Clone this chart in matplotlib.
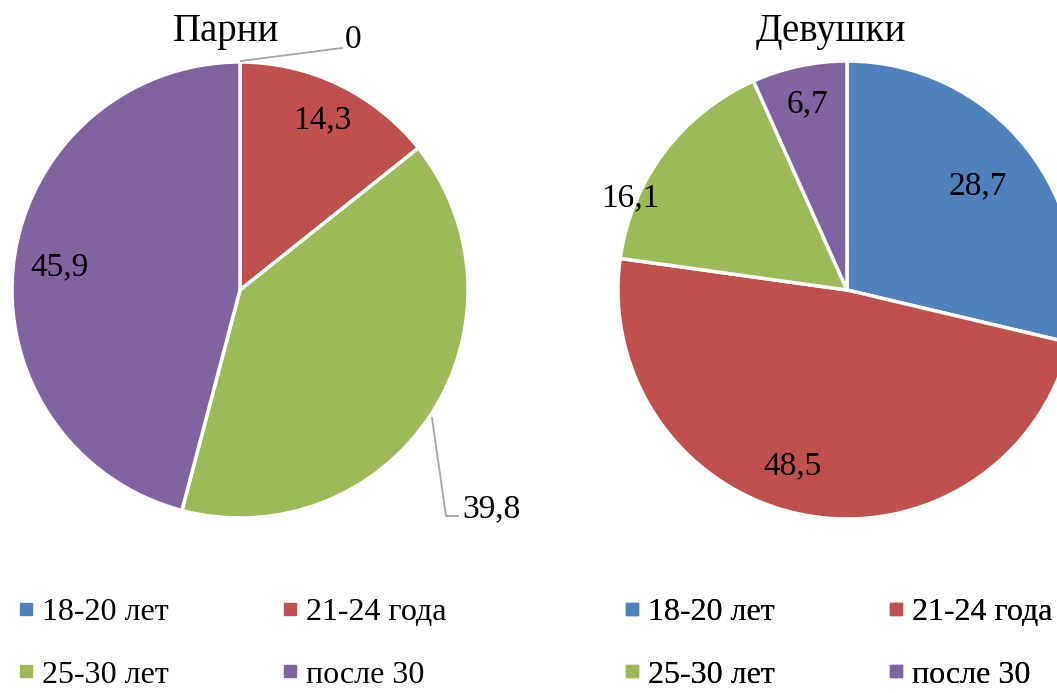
import numpy as np
import matplotlib
matplotlib.use("Agg")
import matplotlib.pyplot as plt
from matplotlib.lines import Line2D

plt.rcParams['font.family'] = ['Liberation Serif', 'DejaVu Serif']

categories = ['18-20 лет', '21-24 года', '25-30 лет', 'после 30']
boys = [0, 14.3, 39.8, 45.9]
girls = [28.7, 48.5, 16.1, 6.7]
boys_labels = ['0', '14,3', '39,8', '45,9']
girls_labels = ['28,7', '48,5', '16,1', '6,7']
colors = ['#4F81BD', '#C0504D', '#9BBB59', '#8064A2']

W, H = 1057, 693
fig = plt.figure(figsize=(W / 100, H / 100), dpi=100)
ax = fig.add_axes([0, 0, 1, 1])

LBL = 24

def draw_pie(vals, cx, cy, r):
    ax.pie(vals, colors=colors, startangle=90, counterclock=False,
           center=(cx, cy), radius=r, frame=True,
           wedgeprops=dict(edgecolor='white', linewidth=2.5))
    # mid angles of slices (deg)
    cum = np.cumsum([0] + list(vals))
    return [90 - (cum[i] + cum[i + 1]) / 2 * 3.6 for i in range(len(vals))]

# boys pie
bx, by, br = 240, H - 290, 228
mids = draw_pie(boys, bx, by, br)
for i, d in [(1, 0.83), (3, 0.80)]:
    a = np.deg2rad(mids[i])
    ax.text(bx + d * br * np.cos(a), by + d * br * np.sin(a), boys_labels[i],
            fontsize=LBL, ha='center', va='center')
# leader labels
ax.plot([bx + 1, 342], [by + br + 1, H - 48], color='#A6A6A6', lw=1.3)
ax.text(345, H - 40, boys_labels[0], fontsize=LBL, ha='left', va='center')
ax.plot([432, 446, 458], [H - 418, H - 516, H - 516], color='#A6A6A6', lw=1.3)
ax.text(462, H - 509, boys_labels[2], fontsize=LBL, ha='left', va='center')

# girls pie
gx, gy, gr = 847, H - 290, 229
mids = draw_pie(girls, gx, gy, gr)
for i, d in [(0, 0.73), (1, 0.78), (3, 0.83)]:
    a = np.deg2rad(mids[i])
    x = gx + d * gr * np.cos(a)
    if i == 1:
        x -= 22
    ax.text(x, gy + d * gr * np.sin(a), girls_labels[i],
            fontsize=LBL, ha='center', va='center')
ax.text(630, H - 198, girls_labels[2], fontsize=LBL, ha='center', va='center')

ax.set_xlim(0, W)
ax.set_ylim(0, H)
ax.axis('off')

# titles
ax.text(226, H - 32, 'Парни', fontsize=28, ha='center', va='center')
ax.text(831, H - 32, 'Девушки', fontsize=28, ha='center', va='center')

# legends (row-wise order)
order = [0, 2, 1, 3]
handles = [Line2D([], [], marker='s', ls='', color=colors[k], markersize=8) for k in order]
labels = [categories[k] for k in order]
for x0 in (16, 622):
    leg = ax.legend(handles, labels, ncol=2, frameon=False, fontsize=23,
                    loc='upper left', bbox_to_anchor=(x0 / W, 1 - 598 / H),
                    bbox_transform=fig.transFigure, handlelength=0.6,
                    handletextpad=0.2, columnspacing=3.5, labelspacing=1.03,
                    borderpad=0, borderaxespad=0)
    ax.add_artist(leg)

fig.savefig('out.png', dpi=100)
